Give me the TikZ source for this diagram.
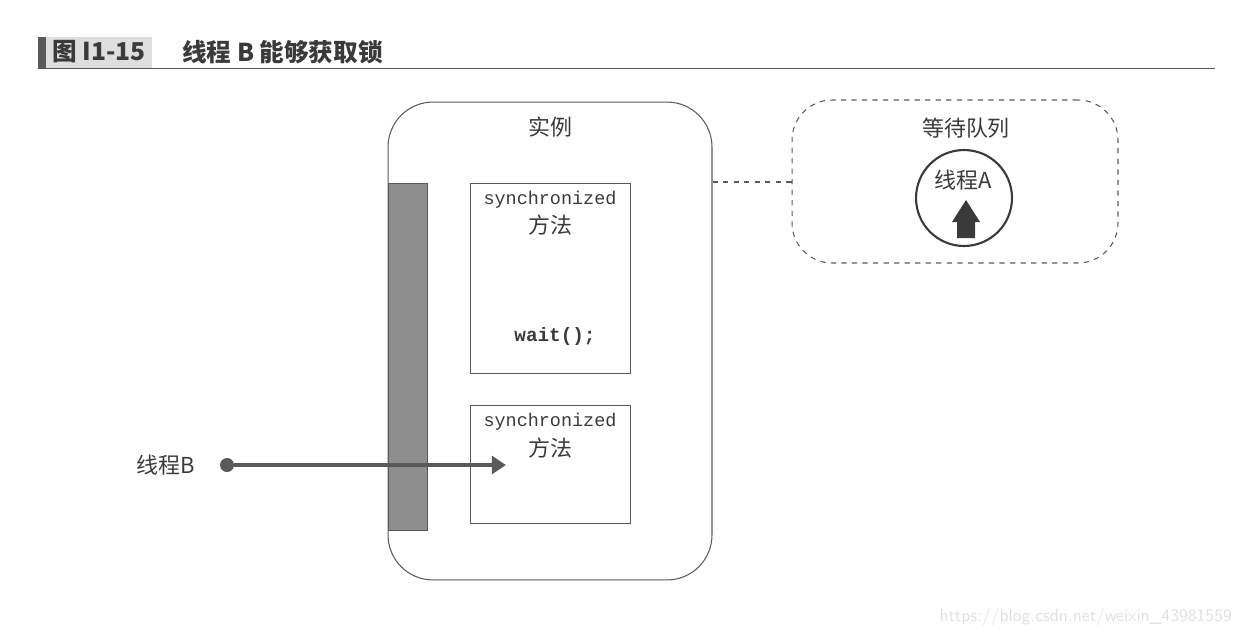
\documentclass[tikz,border=0pt]{standalone}
\usepackage{fontspec}
\setmainfont{Noto Sans CJK SC}
\setmonofont{Liberation Mono}
\usetikzlibrary{arrows.meta,positioning,calc}
\definecolor{inkgray}{HTML}{3A3A3A}
\definecolor{linegray}{HTML}{5A5A5A}
\definecolor{lockgray}{HTML}{8E8E8E}
\tikzset{
  methodbox/.style={draw=linegray,minimum width=3.2cm,align=center,inner sep=0pt},
  cjk/.style={font=\fontsize{12.5}{14}\selectfont,text=inkgray},
  code/.style={font=\ttfamily\fontsize{10.5}{12}\selectfont,text=inkgray}
}

\begin{document}
\begin{tikzpicture}[x=0.02cm,y=-0.02cm]
\useasboundingbox (0,0) rectangle (1246,639);
% Header
\fill[linegray] (38,37) rectangle (46,68);
\fill[black!13] (46,37) rectangle (152,68);
\node[font=\fontsize{14}{16}\selectfont\bfseries,text=inkgray] (fig) at (99,52) {图 I1-15};
\node[font=\fontsize{14}{16}\selectfont\bfseries,text=inkgray,anchor=west] (title) at (176,52) {线程 B 能够获取锁};
\draw[linegray,line width=0.6pt] (38,68.5) -- (1215,68.5);

% Instance
\node[draw=linegray,line width=0.6pt,rounded corners=0.9cm,minimum width=6.48cm,minimum height=9.56cm] (inst) at (550,341) {};
\node[cjk] (instlabel) at (550,127) {实例};
\node[draw=linegray,fill=lockgray,minimum width=0.78cm,minimum height=6.94cm,inner sep=0pt] (lock) at (407.5,356.5) {};

% Methods
\node[methodbox,minimum height=3.8cm] (m1) at (550,278) {};
\node[code] (m1code) at (550,200) {synchronized};
\node[cjk] (m1name) at (550,225) {方法};
\node[font=\ttfamily\bfseries\fontsize{11}{13}\selectfont,text=inkgray] (wait) at (555,336) {wait();};
\node[methodbox,minimum height=2.36cm] (m2) at (550,464) {};
\node[code] (m2code) at (550,422) {synchronized};
\node[cjk] (m2name) at (550,448) {方法};

% Wait set
\node[draw=linegray,dashed,line width=0.6pt,rounded corners=0.8cm,minimum width=6.52cm,minimum height=3.26cm] (queue) at (955,181.5) {};
\node[cjk] (queuelabel) at (966,128) {等待队列};
\node[circle,draw=inkgray,line width=1.2pt,minimum size=1.92cm] (ta) at (964,198) {};
\node[cjk] (talabel) at (963,180) {线程A};
\fill[inkgray] (957,238) -- (957,222) -- (952,222) -- (966,200) -- (980,222) -- (975,222) -- (975,238) -- cycle;
\draw[linegray,dashed,line width=0.6pt] (inst.east |- 0,182) -- (queue.west |- 0,182);

% Thread B
\node[cjk,anchor=east] (tb) at (201,465) {线程B};
\node[circle,fill=linegray,minimum size=0.28cm,inner sep=0pt] (tbdot) at (227,465) {};
\coordinate (tbend) at (506,465);
\draw[linegray,line width=2.2pt,-{Triangle[length=8pt,width=10pt]}] (tbdot) -- (tbend);

\node[font=\sffamily\fontsize{10}{12}\selectfont,text=black!12,anchor=east] (mark) at (1238,617) {https://blog.csdn.net/weixin\_43981559};
\end{tikzpicture}
\end{document}
